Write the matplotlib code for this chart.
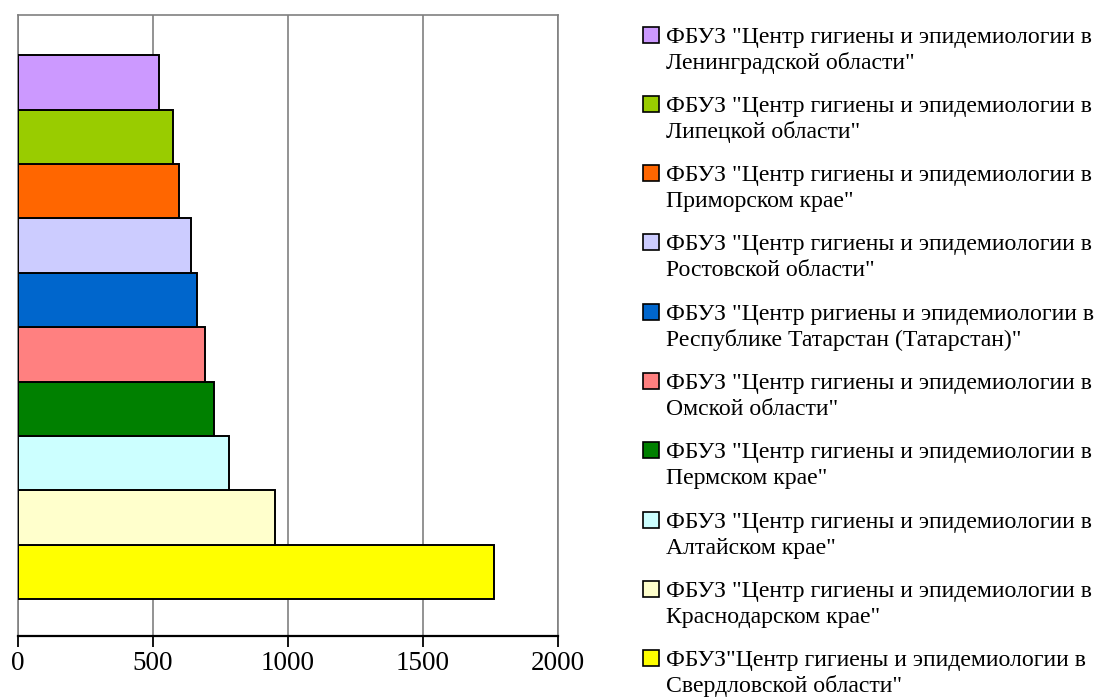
import matplotlib
matplotlib.use('Agg')
import matplotlib.pyplot as plt
from matplotlib.patches import Rectangle

# bottom to top, as the bars are stacked on the chart
labels = [
    'ФБУЗ"Центр гигиены и эпидемиологии в\nСвердловской области"',
    'ФБУЗ "Центр гигиены и эпидемиологии в\nКраснодарском крае"',
    'ФБУЗ "Центр гигиены и эпидемиологии в\nАлтайском крае"',
    'ФБУЗ "Центр гигиены и эпидемиологии в\nПермском крае"',
    'ФБУЗ "Центр гигиены и эпидемиологии в\nОмской области"',
    'ФБУЗ "Центр ригиены и эпидемиологии в\nРеспублике Татарстан (Татарстан)"',
    'ФБУЗ "Центр гигиены и эпидемиологии в\nРостовской области"',
    'ФБУЗ "Центр гигиены и эпидемиологии в\nПриморском крае"',
    'ФБУЗ "Центр гигиены и эпидемиологии в\nЛипецкой области"',
    'ФБУЗ "Центр гигиены и эпидемиологии в\nЛенинградской области"',
]
values = [1762, 952, 783, 727, 691, 663, 642, 598, 573, 524]
colors = ['#FFFF00', '#FFFFCC', '#CCFFFF', '#008000', '#FF8080',
          '#0066CC', '#CCCCFF', '#FF6600', '#99CC00', '#CC99FF']
xticks = [0, 500, 1000, 1500, 2000]

W, H = 1100, 697
plt.rcParams['font.family'] = ['Liberation Serif', 'DejaVu Serif']

fig = plt.figure(figsize=(W / 100, H / 100), dpi=100)
left, right, top, bottom = 18, 558, 15, 636
ax = fig.add_axes([left / W, 1 - bottom / H, (right - left) / W, (bottom - top) / H])

ypos = list(range(len(values)))
ax.barh(ypos, values, height=1.0, color=colors, edgecolor='black', linewidth=1.4, zorder=3)

ax.set_xlim(0, 2000)
ax.set_ylim(-0.5 - 0.68, len(values) - 0.5 + 0.74)
ax.set_xticks(xticks)
ax.set_xticklabels([str(v) for v in xticks], fontsize=19.5)
ax.set_yticks([])
ax.xaxis.grid(True, color='#808080', linewidth=1.2, zorder=1)
ax.tick_params(axis='x', direction='out', length=8, width=1.3, color='black', pad=3)

for s in ['top', 'right', 'left']:
    ax.spines[s].set_color('#808080')
    ax.spines[s].set_linewidth(1.2)
ax.spines['bottom'].set_color('black')
ax.spines['bottom'].set_linewidth(1.6)

# legend, top entry first, square next to first line
order = list(range(len(values)))[::-1]
for k, i in enumerate(order):
    base1 = 42.5 + 69.3 * k
    sq = Rectangle((643 / W, 1 - base1 / H), 16 / W, 16 / H, transform=fig.transFigure,
                   facecolor=colors[i], edgecolor='black', linewidth=1.2)
    fig.add_artist(sq)
    for j, line in enumerate(labels[i].split('\n')):
        fig.text(666 / W, 1 - (base1 + 26 * j) / H, line, fontsize=17.1,
                 va='baseline', ha='left')

fig.savefig('out.png', dpi=100)
